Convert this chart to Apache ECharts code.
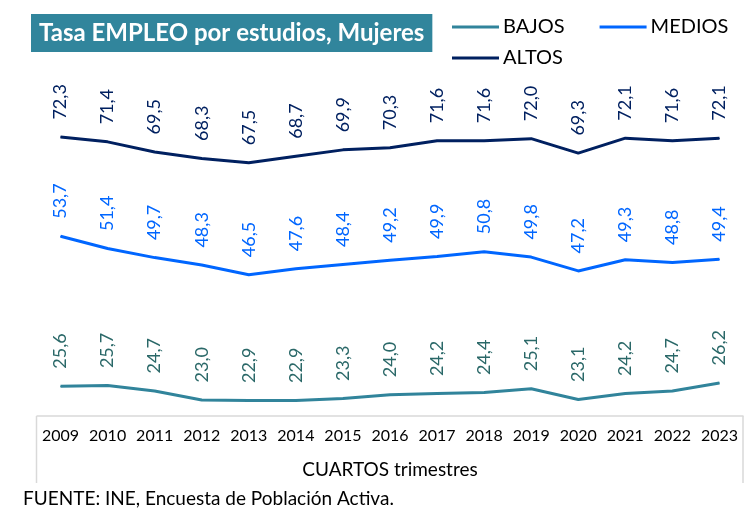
<!DOCTYPE html>
<html>
<head>
<meta charset="utf-8">
<script src="https://cdn.jsdelivr.net/npm/echarts@6/dist/echarts.min.js"></script>
<style>
  html, body { margin: 0; padding: 0; background: #fff; }
  #chart { width: 745px; height: 509px; }
</style>
</head>
<body>
<div id="chart"></div>
<script>
  // datos
  var years = ['2009', '2010', '2011', '2012', '2013', '2014', '2015', '2016', '2017', '2018', '2019', '2020', '2021', '2022', '2023'];
  var bajos = [25.6, 25.7, 24.7, 23.0, 22.9, 22.9, 23.3, 24.0, 24.2, 24.4, 25.1, 23.1, 24.2, 24.7, 26.2];
  var medios = [53.7, 51.4, 49.7, 48.3, 46.5, 47.6, 48.4, 49.2, 49.9, 50.8, 49.8, 47.2, 49.3, 48.8, 49.4];
  var altos = [72.3, 71.4, 69.5, 68.3, 67.5, 68.7, 69.9, 70.3, 71.6, 71.6, 72.0, 69.3, 72.1, 71.6, 72.1];

  var font = 'Lato';
  var boxColor = '#D9D9D9';

  function serie(name, data, lineColor, labelColor) {
    return {
      name: name,
      type: 'line',
      data: data,
      symbol: 'circle',
      symbolSize: 1,
      showSymbol: true,
      lineStyle: { width: 3, color: lineColor },
      itemStyle: { color: lineColor },
      label: {
        show: true,
        position: 'top',
        distance: 17,
        rotate: 90,
        align: 'left',
        verticalAlign: 'middle',
        color: labelColor,
        fontFamily: font,
        fontSize: 18,
        formatter: function (p) { return p.value.toFixed(1).replace('.', ','); }
      }
    };
  }

  var legendBase = {
    left: 447,
    itemWidth: 47,
    itemHeight: 3,
    itemGap: 35,
    icon: 'rect',
    textStyle: { color: '#000', fontFamily: font, fontSize: 20, padding: [0, 0, 0, -1] }
  };

  var myChart = echarts.init(document.getElementById('chart'));
  myChart.setOption({
    animation: false,
    title: {
      text: 'Tasa EMPLEO por estudios, Mujeres',
      left: 31,
      top: 14,
      padding: [7, 8],
      backgroundColor: '#31859C',
      textStyle: { color: '#fff', fontFamily: font, fontSize: 24, fontWeight: 'bold', lineHeight: 24 }
    },
    legend: [
      Object.assign({}, legendBase, { top: 12, data: ['BAJOS', 'MEDIOS'] }),
      Object.assign({}, legendBase, { top: 43, data: ['ALTOS'] })
    ],
    grid: { left: 37, right: 2, top: 96, bottom: 93 },
    xAxis: {
      type: 'category',
      data: years,
      boundaryGap: true,
      axisLine: { lineStyle: { color: boxColor, width: 1.5 } },
      axisTick: { show: false },
      axisLabel: { color: '#000', fontFamily: font, fontSize: 16, margin: 12, interval: 0 },
      name: 'CUARTOS trimestres',
      nameLocation: 'middle',
      nameGap: 44,
      nameTextStyle: { color: '#000', fontFamily: font, fontSize: 19 }
    },
    yAxis: {
      type: 'value',
      min: 20,
      max: 80,
      show: false
    },
    graphic: [
      { type: 'line', shape: { x1: 36.5, y1: 416, x2: 36.5, y2: 483 }, style: { stroke: boxColor, lineWidth: 1.5 } },
      { type: 'line', shape: { x1: 743, y1: 416, x2: 743, y2: 483 }, style: { stroke: boxColor, lineWidth: 1.5 } },
      { type: 'text', left: 23, top: 489, style: { text: 'FUENTE: INE, Encuesta de Población Activa.', fill: '#000', fontFamily: font, fontSize: 19 } }
    ],
    series: [
      serie('BAJOS', bajos, '#31849B', '#2A6868'),
      serie('MEDIOS', medios, '#0066FF', '#0066FF'),
      serie('ALTOS', altos, '#002060', '#002060')
    ]
  });
</script>
</body>
</html>
